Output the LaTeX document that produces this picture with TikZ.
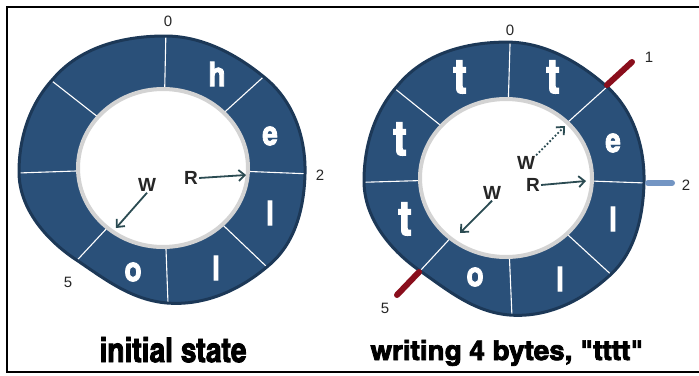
\documentclass[tikz,border=0pt]{standalone}
\usepackage{fontspec}
\setsansfont{Liberation Sans}
\newfontfamily\capfont{texgyreheroscn-bold.otf}[FakeBold=2.5]
\usepackage{graphicx}
\usetikzlibrary{arrows.meta}
\definecolor{ringblue}{HTML}{2A5079}
\definecolor{ringedge}{HTML}{1C3857}
\definecolor{rimgray}{HTML}{D3D3D3}
\definecolor{ptrcolor}{HTML}{2B4B52}
\definecolor{tickred}{HTML}{8A0E1C}
\definecolor{tickblue}{HTML}{7395C3}
\newcommand\tallchar[1]{\scalebox{1.3}[1.3]{#1}}
\newcommand\ringoutline{(165,36) .. controls (202,36) and (236,54) .. (264,77) .. controls (293,100) and (306,137) .. (305,174) .. controls (304,209) and (295,244) .. (268,266) .. controls (240,290) and (205,306) .. (167,303) .. controls (132,300) and (106,280) .. (78,261) .. controls (47,241) and (19,209) .. (19,172) .. controls (19,137) and (30,104) .. (53,79) .. controls (80,47) and (123,36) .. (165,36) -- cycle}

\begin{document}
\begin{tikzpicture}[
        x=1pt, y=-1pt,
        ring/.style={fill=ringblue},
        rim/.style={draw=ringedge, line width=3pt, line join=round},
        hole/.style={fill=white, draw=rimgray, line width=4pt},
        divider/.style={draw=white, line width=1.1pt},
        rightring/.style={shift={(345.4,5.3)}, xscale=0.979, yscale=1.022},
        letter/.style={text=white, inner sep=0pt, font=\capfont\fontsize{26}{26}\selectfont},
        bigletter/.style={letter, font=\capfont\fontsize{37}{37}\selectfont},
        index/.style={inner sep=1pt, text=black!85, font=\sffamily\fontsize{15}{15}\selectfont},
        ptrlabel/.style={inner sep=1pt, text=black!85, font=\sffamily\bfseries\fontsize{19}{19}\selectfont},
        pointer/.style={-{Straight Barb[length=6pt, width=11pt]}, draw=ptrcolor, line width=1.8pt},
        tick/.style={line width=6pt, line cap=round},
        caption/.style={anchor=base, inner sep=0pt, font=\capfont}
        ]
        \useasboundingbox (0,0) rectangle (699,375);
        \draw[line width=2.5pt] (699,7) -- (7,7) -- (7,372) -- (699,372);

        % Initial state
        \coordinate (lc) at (163,168);
        \fill[ring] \ringoutline;
        \begin{scope}
            \clip \ringoutline;
            \foreach \p in {(167,-18), (303,41), (362,176), (310,308), (170,357), (40,300), (-40,175), (6,45)}
                \draw[divider] (lc) -- \p;
        \end{scope}
        \draw[rim] \ringoutline;
        \draw[hole] (lc) ellipse [x radius=85, y radius=79];

        \node[letter] (lh) at (217,74) {\tallchar{h}};
        \node[letter] (le) at (270,136) {\tallchar{e}};
        \node[letter] (ll1) at (270,213) {\tallchar{l}};
        \node[letter] (ll2) at (216,268) {\tallchar{l}};
        \node[letter] (lo) at (133,272) {\tallchar{o}};

        \node[index] (li0) at (168,21) {0};
        \node[index] (li2) at (320,175) {2};
        \node[index] (li5) at (68,282) {5};

        \node[ptrlabel] (lr) at (191,178) {R};
        \node[ptrlabel] (lw) at (147,185) {W};
        \coordinate (lrend) at (246,175);
        \coordinate (lwend) at (116,228);
        \draw[pointer] (lr.east) -- (lrend);
        \draw[pointer] (lw.south) -- (lwend);

        \node[caption] (lcap) at (173,362) {\resizebox{147pt}{25pt}{initial state}};

        % Writing 4 bytes
        \coordinate (rc) at (506,178);
        \fill[ring, rightring] \ringoutline;
        \begin{scope}
            \clip[rightring] \ringoutline;
            \foreach \p in {(512,-22), (649,49), (702,185), (654,314), (514,363), (383,311), (306,184), (348,51)}
                \draw[divider] (rc) -- \p;
        \end{scope}
        \draw[rim, rightring] \ringoutline;
        \draw[hole] (rc) ellipse [x radius=86, y radius=79];

        \draw[tick, draw=tickred] (607,85) coordinate (rt1) -- (632,62);
        \draw[tick, draw=tickred] (419,272) coordinate (rt5) -- (397,295);
        \draw[tick, draw=tickblue] (648,183) coordinate (rt2) -- (672,183);

        \node[bigletter] (rt7) at (460,77) {\tallchar{t}};
        \node[bigletter] (rt0) at (553,77) {\tallchar{t}};
        \node[bigletter] (rt6) at (400,139) {\tallchar{t}};
        \node[bigletter] (rt5l) at (405,219) {\tallchar{t}};
        \node[letter] (re) at (613,143) {\tallchar{e}};
        \node[letter] (rl1) at (613,219) {\tallchar{l}};
        \node[letter] (rl2) at (560,279) {\tallchar{l}};
        \node[letter] (ro) at (475,277) {\tallchar{o}};

        \node[index] (ri0) at (510,30) {0};
        \node[index] (ri1) at (649,57) {1};
        \node[index] (ri2) at (686,185) {2};
        \node[index] (ri5) at (385,308) {5};

        \node[ptrlabel] (rr) at (533,185) {R};
        \node[ptrlabel] (rw) at (492,193) {W};
        \node[ptrlabel] (rwn) at (526,163) {W};
        \coordinate (rrend) at (586,181);
        \coordinate (rwend) at (460,233);
        \coordinate (rwnend) at (565,126);
        \draw[pointer] (rr.east) -- (rrend);
        \draw[pointer] (rw.south) -- (rwend);
        \draw[pointer, dotted] (rwn.north east) -- (rwnend);

        \node[caption] (rcap) at (507,360) {\resizebox{273pt}{20pt}{writing 4 bytes, "tttt"}};
\end{tikzpicture}
\end{document}
